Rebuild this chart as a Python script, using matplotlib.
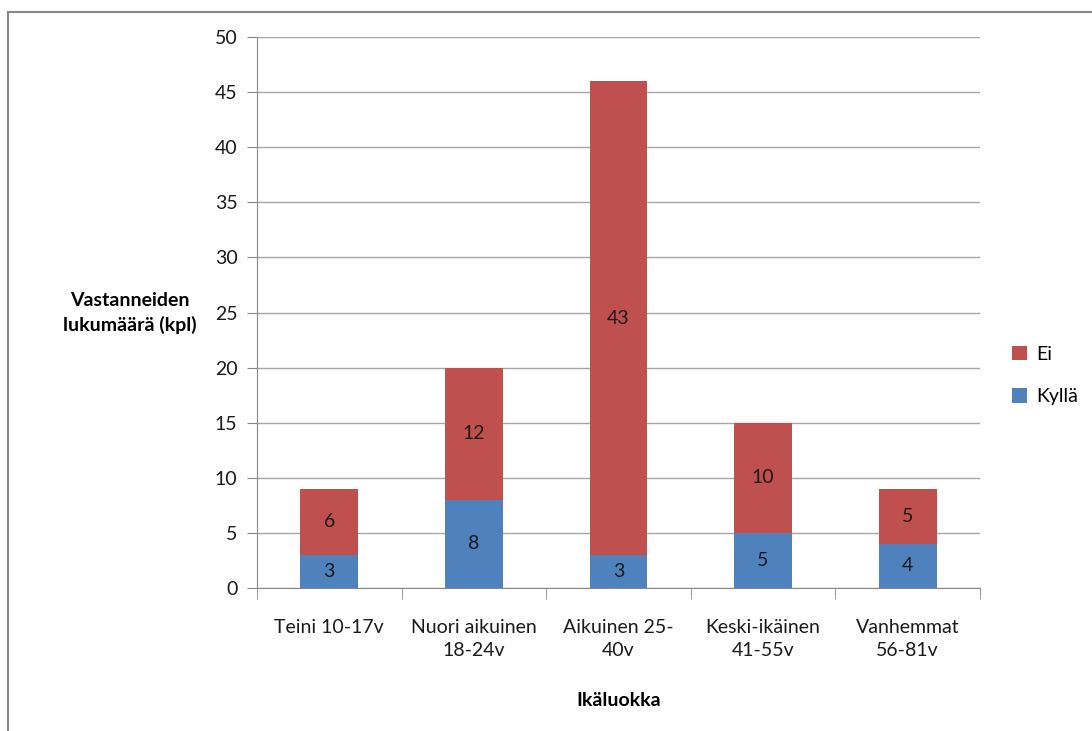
import matplotlib.pyplot as plt
from matplotlib.patches import Rectangle

categories = ['Teini 10-17v', 'Nuori aikuinen\n18-24v', 'Aikuinen 25-\n40v',
              'Keski-ikäinen\n41-55v', 'Vanhemmat\n56-81v']
kylla = [3, 8, 3, 5, 4]
ei = [6, 12, 43, 10, 5]

plt.rcParams['font.family'] = ['Lato', 'DejaVu Sans']
fs = 14

fig = plt.figure(figsize=(10.92, 7.31), dpi=100)
ax = fig.add_axes([0.2353, 0.1956, 0.6621, 0.7538])

x = list(range(len(categories)))
b1 = ax.bar(x, kylla, width=0.4, color='#4F81BD', label='Kyllä', zorder=3)
b2 = ax.bar(x, ei, width=0.4, bottom=kylla, color='#C0504D', label='Ei', zorder=3)
ax.bar_label(b1, label_type='center', fontsize=fs, color='#1a1a1a')
ax.bar_label(b2, label_type='center', fontsize=fs, color='#1a1a1a')

ax.set_xlim(-0.5, len(categories) - 0.5)
ax.set_ylim(0, 50)
ax.set_yticks(range(0, 51, 5))
ax.yaxis.grid(True, color='#a6a6a6', linewidth=1, zorder=0)
ax.set_xticks(x)
ax.set_xticklabels(categories, fontsize=fs, color='#1a1a1a', linespacing=1.45)
ax.set_xticks([i + 0.5 for i in range(-1, len(categories))], minor=True)
ax.tick_params(axis='x', which='major', length=0, pad=22)
ax.tick_params(axis='x', which='minor', length=8, color='#888888')
ax.tick_params(axis='y', length=7, color='#888888', labelsize=fs, labelcolor='#1a1a1a', pad=7)
for s in ['top', 'right']:
    ax.spines[s].set_visible(False)
for s in ['left', 'bottom']:
    ax.spines[s].set_color('#888888')

ax.set_xlabel('Ikäluokka', fontsize=fs, fontweight='bold', labelpad=24)
fig.text(0.119, 0.572, 'Vastanneiden\nlukumäärä (kpl)', fontsize=fs,
         fontweight='bold', ha='center', va='center', linespacing=1.45)

handles = [b2, b1]
fig.legend(handles, ['Ei', 'Kyllä'], loc='center left', bbox_to_anchor=(0.927, 0.486),
           frameon=False, fontsize=fs, handlelength=0.75, handleheight=0.75,
           handletextpad=0.5, labelspacing=1.3, borderpad=0, borderaxespad=0)

fig.patches.append(Rectangle((0.0075, -0.05), 1.1, 1.034, transform=fig.transFigure,
                             fill=False, edgecolor='#878787', linewidth=1.5))

fig.savefig('out.png', dpi=100)
